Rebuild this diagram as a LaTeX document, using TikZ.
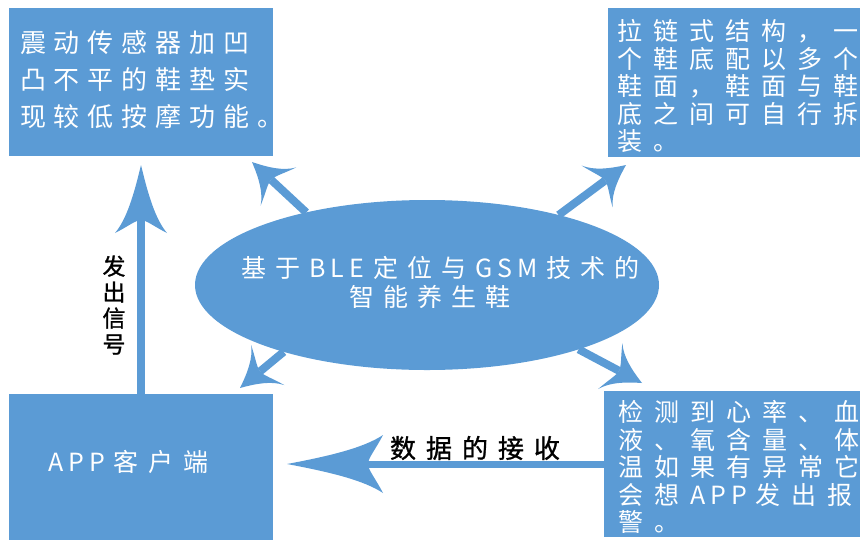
\documentclass[tikz,border=0pt]{standalone}
\usepackage{fontspec}
\usetikzlibrary{arrows.meta,shapes.geometric}
\newfontfamily\cjkR{Noto Sans CJK SC}
\newfontfamily\cjkC[FakeBold=1]{Noto Sans CJK SC}
\definecolor{office}{RGB}{91,155,213}
\newdimen\chsp
\chsp=10pt
\def\spc#1{\spci#1\relax}
\def\spci#1{\ifx#1\relax\else#1\kern\chsp\expandafter\spci\fi}
\def\latspc#1{{\chsp=5pt\spc{#1}}\kern4pt}
\newdimen\swA
\newdimen\swB
\pgfdeclarearrow{
  name = Swoop,
  parameters = {\the\pgfarrowlength,\the\pgfarrowwidth,\the\pgfarrowinset},
  setup code = {
    \pgfarrowssettipend{0pt}
    \pgfarrowssetbackend{-\pgfarrowlength}
    \swA=\pgfarrowinset
    \advance\swA by -\pgfarrowlength
    \pgfarrowssetlineend{\swA}
    \pgfarrowsupperhullpoint{-\pgfarrowlength}{.5\pgfarrowwidth}
    \pgfarrowshullpoint{0pt}{0pt}
    \pgfarrowssavethe\pgfarrowlength
    \pgfarrowssavethe\pgfarrowwidth
    \pgfarrowssavethe\pgfarrowinset
  },
  drawing code = {
    \swA=\pgfarrowinset
    \advance\swA by -\pgfarrowlength
    \swB=-\pgfarrowlength
    \advance\swB by .5\pgfarrowinset
    \pgfpathmoveto{\pgfpointorigin}
    \pgfpathcurveto{\pgfpoint{-.45\pgfarrowlength}{.14\pgfarrowwidth}}{\pgfpoint{-.8\pgfarrowlength}{.28\pgfarrowwidth}}{\pgfpoint{-\pgfarrowlength}{.5\pgfarrowwidth}}
    \pgfpathcurveto{\pgfpoint{\swB}{.25\pgfarrowwidth}}{\pgfpoint{\swA}{.1\pgfarrowwidth}}{\pgfpoint{\swA}{0pt}}
    \pgfpathcurveto{\pgfpoint{\swA}{-.1\pgfarrowwidth}}{\pgfpoint{\swB}{-.25\pgfarrowwidth}}{\pgfpoint{-\pgfarrowlength}{-.5\pgfarrowwidth}}
    \pgfpathcurveto{\pgfpoint{-.8\pgfarrowlength}{-.28\pgfarrowwidth}}{\pgfpoint{-.45\pgfarrowlength}{-.14\pgfarrowwidth}}{\pgfpointorigin}
    \pgfpathclose
    \pgfusepathqfill
  },
  defaults = {length=20pt, width=20pt, inset=5pt}
}
\begin{document}
\begin{tikzpicture}[x=1pt,y=-1pt,
  box/.style={rectangle, fill=office, draw=none, inner sep=0pt, outer sep=0pt},
  txt/.style={text=white, inner sep=0pt, outer sep=0pt, align=left, anchor=west},
  conn/.style={draw=office, color=office, line width=8pt},
  lab/.style={text=black, inner sep=0pt, outer sep=0pt}
]
\useasboundingbox (0,0) rectangle (861,541);

% boxes
\node[box, minimum width=264pt, minimum height=148pt] (tl) at (141,82) {};
\node[box, minimum width=252pt, minimum height=149pt] (tr) at (734,82.5) {};
\node[box, minimum width=264pt, minimum height=146pt] (bl) at (141,467) {};
\node[box, minimum width=256pt, minimum height=146pt] (br) at (732,464) {};
\node[ellipse, fill=office, minimum width=464pt, minimum height=170pt, inner sep=0pt, outer sep=0pt] (el) at (427,285) {};

% texts
\node[txt, font={\cjkR\fontsize{26pt}{37pt}\selectfont\chsp=8pt}] (tlt) at (20,80)
  {\spc{震动传感器加凹}\\\spc{凸不平的鞋垫实}\\\spc{现较低按摩功能。}};
\node[txt, font={\cjkR\fontsize{25pt}{27.5pt}\selectfont\chsp=11pt}] (trt) at (617,86)
  {\spc{拉链式结构，一}\\\spc{个鞋底配以多个}\\\spc{鞋面，鞋面与鞋}\\\spc{底之间可自行拆}\\\spc{装。}};
\node[txt, font={\cjkR\fontsize{25pt}{28pt}\selectfont\chsp=10pt}] (blt) at (48,462)
  {\latspc{APP}\spc{客户端}};
\node[txt, font={\cjkR\fontsize{25pt}{27.5pt}\selectfont\chsp=11pt}] (brt) at (618,467)
  {\spc{检测到心率、血}\\\spc{液、氧含量、体}\\\spc{温如果有异常它}\\\spc{会想}\latspc{APP}\spc{发出报}\\\spc{警。}};
\node[txt, anchor=center, align=center, font={\cjkR\fontsize{25pt}{29pt}\selectfont\chsp=9pt}] (elt) at (445,282.5)
  {\spc{基于}\latspc{BLE}\spc{定位与}\latspc{GSM}\spc{技术的}\\\spc{智能养生鞋}\kern22pt};

% connectors
\coordinate (t1) at (252,162);
\coordinate (t2) at (626,165);
\coordinate (t3) at (240,388);
\coordinate (t4) at (642,383);
\coordinate (t5) at (141,165);
\coordinate (t6) at (287,464);

\draw[conn, -{Swoop[length=36pt,width=52pt,inset=10pt]}] (el.149) -- (t1);
\draw[conn, -{Swoop[length=36pt,width=52pt,inset=10pt]}] (el.28) -- (t2);
\draw[conn, -{Swoop[length=36pt,width=52pt,inset=10pt]}] (el.205) -- (t3);
\draw[conn, -{Swoop[length=36pt,width=52pt,inset=10pt]}] (el.337) -- (t4);
\draw[conn, -{Swoop[length=68pt,width=52pt,inset=13pt]}] (bl.north) -- (t5);
\draw[conn, line width=7pt, -{Swoop[length=96pt,width=58pt,inset=15pt]}] (br.west) -- (t6);

\node[lab, align=center, font={\cjkC\fontsize{23pt}{26pt}\selectfont}] (sig) at (114,305) {发\\出\\信\\号};
\node[lab, anchor=west, font={\cjkC\fontsize{26pt}{30pt}\selectfont\chsp=10pt}] (rcv) at (390,448) {\spc{数据的接收}};
\end{tikzpicture}
\end{document}
